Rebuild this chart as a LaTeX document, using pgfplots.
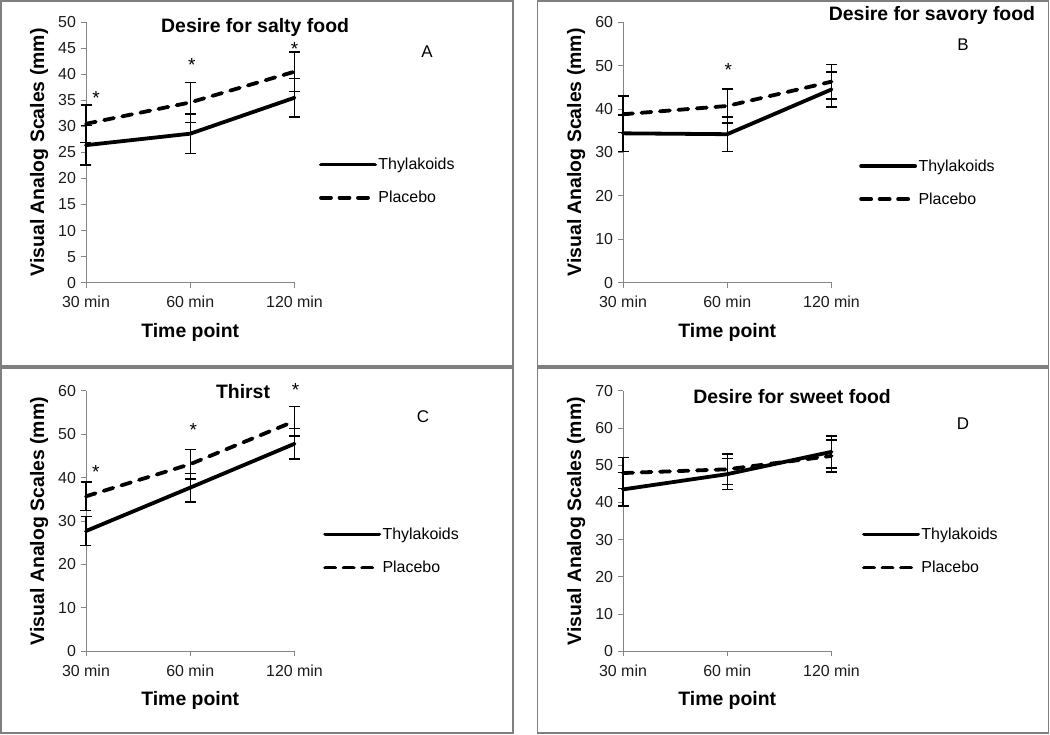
\documentclass[border=0pt]{standalone}
\usepackage{pgfplots}
\pgfplotsset{compat=1.18}
\usepackage{fontspec}
\setmainfont{Liberation Sans}
\definecolor{axgray}{HTML}{868686}
\definecolor{boxgray}{HTML}{7F7F7F}
\definecolor{txt}{HTML}{1A1A1A}

\tikzset{
 ttl/.style={font=\bfseries\fontsize{19.5}{22}\selectfont},
 panlet/.style={font=\fontsize{17}{20}\selectfont},
 ast/.style={font=\fontsize{19}{20}\selectfont},
}
\pgfplotsset{
 vas/.style={
  scale only axis, width=208.5bp, height=260.5bp,
  anchor=south west,
  xmin=0, xmax=2, ymin=0,
  xtick={0,1,2}, xticklabels={30 min, 60 min, 120 min},
  axis lines*=left,
  axis line style={axgray, line width=1bp},
  tick style={axgray, line width=1bp},
  major tick length=5bp,
  tick align=outside,
  /pgf/number format/assume math mode=true,
  ticklabel style={font=\fontsize{16}{18}\selectfont, text=txt},
  xticklabel style={yshift=-5bp},
  yticklabel style={xshift=-1.5bp},
  xlabel={Time point}, ylabel={Visual Analog Scales (mm)},
  every axis x label/.style={at={(axis description cs:0.5,-0.19)}, anchor=center, font=\bfseries\fontsize{19.5}{22}\selectfont},
  every axis y label/.style={at={(axis description cs:-0.225,0.5)}, anchor=center, rotate=90, font=\bfseries\fontsize{19.5}{22}\selectfont},
  clip=false,
  legend image code/.code={\draw[##1, line width=3.8bp, line cap=round] (0bp,0bp) -- (54bp,0bp);},
  legend style={draw=none, fill=none, anchor=west, font=\fontsize{16}{18}\selectfont, row sep=17bp, inner sep=0pt, nodes={inner sep=1.5bp}},
  legend cell align=left,
 },
 thy/.style={black, line width=3.8bp, line cap=round, no markers,
   error bars/.cd, y dir=both, y explicit,
   error bar style={line width=1.4bp, solid, black, line cap=butt},
   error mark options={rotate=90, mark size=5.5bp, line width=1.4bp, solid, black}},
 pla/.style={black, line width=3.8bp, line cap=round, no markers, dash pattern=on 10bp off 8.5bp,
   error bars/.cd, y dir=both, y explicit,
   error bar style={line width=1.4bp, solid, black, line cap=butt},
   error mark options={rotate=90, mark size=5.5bp, line width=1.4bp, solid, black}},
}

\begin{document}
\begin{tikzpicture}[x=1bp,y=1bp]
\useasboundingbox (0,0) rectangle (1050,735);
\draw[boxgray, line width=1.6bp] (0.8,368.8) rectangle (513,734.2);
\draw[boxgray, line width=1.6bp] (537.3,368.8) rectangle (1048.3,734.2);
\draw[boxgray, line width=1.6bp] (0.8,1.7) rectangle (513,367);
\draw[boxgray, line width=1.6bp] (537.3,1.7) rectangle (1048.3,367);

% Panel A
\begin{axis}[vas, at={(86bp,452.3bp)}, ymax=50, ytick distance=5,
  legend style={at={(1.117,0.39)}}]
\addplot[thy] coordinates {(0,26.4) +- (0,3.8) (1,28.6) +- (0,3.8) (2,35.5) +- (0,3.7)};
\addplot[pla] coordinates {(0,30.5) +- (0,3.6) (1,34.6) +- (0,3.8) (2,40.5) +- (0,3.8)};
\legend{Thylakoids, Placebo}
\node[ttl] at (rel axis cs:0.811,0.981) {Desire for salty food};
\node[panlet] at (rel axis cs:1.635,0.885) {A};
\node[ast] at (axis cs:0.096,35.45) {*};
\node[ast] at (axis cs:1.016,41.75) {*};
\node[ast] at (axis cs:2.0,44.95) {*};
\end{axis}

% Panel B
\begin{axis}[vas, at={(623bp,452.3bp)}, ymax=60, ytick distance=10,
  legend style={at={(1.132,0.384)}}]
\addplot[thy] coordinates {(0,34.4) +- (0,4.2) (1,34.2) +- (0,4.0) (2,44.5) +- (0,4.05)};
\addplot[pla] coordinates {(0,38.8) +- (0,4.2) (1,40.7) +- (0,3.9) (2,46.3) +- (0,4.0)};
\legend{Thylakoids, Placebo}
\node[ttl] at (rel axis cs:1.482,1.027) {Desire for savory food};
\node[panlet] at (rel axis cs:1.631,0.912) {B};
\node[ast] at (axis cs:1.01,48.9) {*};
\end{axis}

% Panel C
\begin{axis}[vas, at={(86bp,83.7bp)}, ymax=60, ytick distance=10,
  legend style={at={(1.137,0.385)}}]
\addplot[thy] coordinates {(0,27.7) +- (0,3.4) (1,37.7) +- (0,3.3) (2,47.8) +- (0,3.5)};
\addplot[pla] coordinates {(0,35.7) +- (0,3.3) (1,43.1) +- (0,3.4) (2,53.0) +- (0,3.4)};
\legend{Thylakoids, Placebo}
\node[ttl] at (rel axis cs:0.753,0.996) {Thirst};
\node[panlet] at (rel axis cs:1.616,0.900) {C};
\node[ast] at (axis cs:0.093,41.3) {*};
\node[ast] at (axis cs:1.03,50.9) {*};
\node[ast] at (axis cs:2.01,60.1) {*};
\end{axis}

% Panel D
\begin{axis}[vas, at={(623bp,83.7bp)}, ymax=70, ytick distance=10,
  legend style={at={(1.146,0.385)}}]
\addplot[thy] coordinates {(0,43.5) +- (0,4.5) (1,47.6) +- (0,4.2) (2,53.6) +- (0,4.3)};
\addplot[pla] coordinates {(0,47.9) +- (0,4.2) (1,48.9) +- (0,4.1) (2,52.5) +- (0,4.3)};
\legend{Thylakoids, Placebo}
\node[ttl] at (rel axis cs:0.811,0.977) {Desire for sweet food};
\node[panlet] at (rel axis cs:1.631,0.873) {D};
\end{axis}
\end{tikzpicture}
\end{document}
